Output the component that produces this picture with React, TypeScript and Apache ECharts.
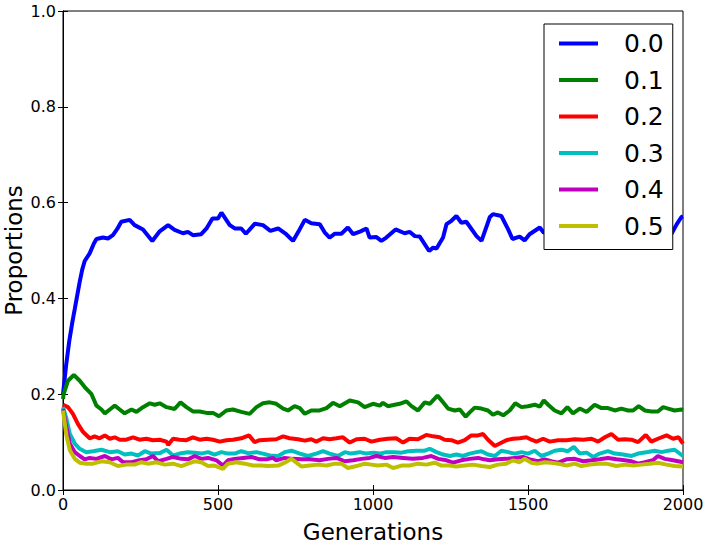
import React, { useEffect, useRef } from "react";
import * as echarts from "echarts";

const seriesNames = ["0.0", "0.1", "0.2", "0.3", "0.4", "0.5"];
const seriesColors = ["#0000ff", "#008000", "#ff0000", "#00bfbf", "#bf00bf", "#bfbf00"];
const xTicks = [0, 500, 1000, 1500, 2000];

const p00 = [[0,0.2],[10,0.26],[20,0.31],[30,0.35],[38,0.378],[54,0.435],[62,0.46],[70,0.478],[86,0.494],[100,0.515],[108,0.524],[129,0.527],[145,0.525],[161,0.532],[175,0.545],[188,0.56],[215,0.564],[231,0.553],[258,0.544],[288,0.52],[312,0.54],[339,0.553],[360,0.543],[387,0.536],[403,0.539],[419,0.532],[446,0.534],[463,0.546],[482,0.567],[500,0.567],[511,0.579],[538,0.553],[554,0.546],[575,0.546],[590,0.535],[619,0.556],[645,0.553],[669,0.541],[694,0.546],[720,0.534],[742,0.52],[760,0.54],[780,0.564],[801,0.557],[828,0.555],[844,0.538],[860,0.527],[877,0.535],[898,0.535],[919,0.548],[936,0.534],[960,0.54],[979,0.546],[989,0.527],[1011,0.528],[1027,0.52],[1043,0.527],[1073,0.544],[1102,0.536],[1118,0.539],[1135,0.53],[1151,0.529],[1181,0.499],[1194,0.506],[1205,0.504],[1226,0.527],[1237,0.555],[1253,0.562],[1269,0.572],[1285,0.558],[1301,0.56],[1334,0.53],[1350,0.52],[1377,0.57],[1387,0.576],[1414,0.572],[1436,0.544],[1450,0.524],[1473,0.529],[1489,0.521],[1505,0.534],[1538,0.548],[1551,0.537],[1580,0.545],[1620,0.55],[1660,0.538],[1700,0.545],[1740,0.55],[1780,0.54],[1820,0.548],[1860,0.552],[1900,0.54],[1940,0.545],[1963,0.535],[1980,0.555],[1995,0.57],[2000,0.571]];

const p01 = [[0,0.19],[2,0.2],[16,0.228],[35,0.24],[54,0.228],[70,0.215],[92,0.2],[108,0.176],[124,0.168],[135,0.16],[151,0.168],[167,0.176],[183,0.168],[199,0.16],[221,0.168],[237,0.163],[258,0.173],[280,0.181],[296,0.178],[312,0.181],[334,0.173],[360,0.169],[379,0.183],[398,0.173],[419,0.164],[441,0.164],[463,0.161],[484,0.161],[503,0.154],[527,0.166],[548,0.168],[575,0.163],[602,0.159],[624,0.173],[645,0.181],[667,0.183],[688,0.18],[710,0.17],[726,0.166],[747,0.175],[764,0.171],[780,0.159],[801,0.166],[828,0.166],[850,0.171],[871,0.182],[893,0.175],[925,0.187],[952,0.183],[973,0.173],[1000,0.18],[1022,0.176],[1032,0.182],[1048,0.175],[1070,0.178],[1086,0.18],[1108,0.185],[1124,0.175],[1145,0.166],[1167,0.183],[1183,0.18],[1208,0.197],[1226,0.183],[1242,0.17],[1264,0.166],[1280,0.168],[1299,0.153],[1312,0.162],[1328,0.172],[1350,0.17],[1371,0.166],[1387,0.157],[1403,0.162],[1420,0.156],[1441,0.166],[1459,0.181],[1479,0.173],[1500,0.175],[1522,0.178],[1538,0.174],[1551,0.187],[1565,0.178],[1586,0.166],[1608,0.16],[1627,0.173],[1645,0.16],[1667,0.17],[1689,0.163],[1715,0.178],[1737,0.171],[1758,0.171],[1780,0.166],[1801,0.17],[1823,0.166],[1839,0.166],[1857,0.175],[1877,0.166],[1898,0.164],[1919,0.164],[1936,0.173],[1952,0.17],[1973,0.166],[1995,0.168],[2000,0.167]];

const p02 = [[0,0.178],[16,0.173],[32,0.159],[48,0.138],[65,0.121],[86,0.108],[102,0.112],[118,0.108],[135,0.114],[151,0.107],[167,0.11],[183,0.105],[204,0.105],[226,0.11],[247,0.105],[269,0.107],[290,0.104],[312,0.105],[334,0.101],[339,0.094],[355,0.107],[376,0.105],[398,0.104],[419,0.11],[441,0.105],[463,0.107],[484,0.105],[506,0.101],[527,0.104],[548,0.105],[575,0.108],[600,0.114],[618,0.1],[634,0.104],[661,0.105],[688,0.106],[710,0.112],[731,0.108],[758,0.106],[780,0.103],[801,0.106],[817,0.101],[839,0.108],[860,0.106],[882,0.108],[903,0.11],[925,0.099],[947,0.106],[973,0.107],[995,0.101],[1022,0.105],[1048,0.107],[1075,0.108],[1097,0.099],[1118,0.107],[1145,0.106],[1172,0.115],[1194,0.112],[1215,0.11],[1231,0.105],[1253,0.104],[1274,0.099],[1296,0.104],[1317,0.114],[1339,0.114],[1355,0.117],[1371,0.105],[1393,0.092],[1409,0.097],[1430,0.104],[1452,0.107],[1473,0.108],[1495,0.11],[1511,0.105],[1527,0.101],[1549,0.107],[1570,0.101],[1597,0.104],[1624,0.104],[1651,0.106],[1678,0.105],[1705,0.107],[1726,0.101],[1748,0.11],[1769,0.117],[1791,0.105],[1812,0.106],[1834,0.105],[1855,0.1],[1880,0.115],[1898,0.101],[1919,0.107],[1947,0.114],[1968,0.107],[1986,0.11],[2000,0.097]];

const p03 = [[0,0.173],[11,0.149],[22,0.117],[38,0.097],[54,0.086],[75,0.079],[97,0.081],[124,0.084],[151,0.079],[177,0.081],[199,0.074],[221,0.076],[242,0.072],[264,0.081],[285,0.076],[312,0.077],[334,0.084],[355,0.072],[376,0.076],[403,0.079],[425,0.078],[446,0.076],[468,0.079],[489,0.074],[511,0.079],[532,0.076],[554,0.076],[575,0.081],[597,0.077],[624,0.079],[645,0.076],[667,0.072],[694,0.071],[715,0.079],[737,0.082],[764,0.076],[790,0.071],[817,0.076],[839,0.081],[860,0.076],[887,0.071],[909,0.079],[930,0.076],[957,0.079],[979,0.076],[1000,0.078],[1022,0.076],[1043,0.079],[1070,0.079],[1092,0.078],[1113,0.081],[1140,0.082],[1167,0.082],[1183,0.086],[1205,0.079],[1226,0.074],[1248,0.071],[1269,0.074],[1290,0.071],[1312,0.076],[1334,0.079],[1350,0.081],[1371,0.074],[1393,0.071],[1414,0.082],[1436,0.079],[1457,0.076],[1479,0.079],[1500,0.076],[1522,0.082],[1543,0.071],[1565,0.076],[1586,0.082],[1608,0.084],[1629,0.081],[1648,0.09],[1667,0.076],[1689,0.078],[1710,0.069],[1731,0.076],[1758,0.081],[1780,0.076],[1807,0.074],[1834,0.071],[1855,0.076],[1882,0.079],[1909,0.082],[1930,0.079],[1952,0.082],[1973,0.084],[2000,0.071]];

const p04 = [[0,0.169],[11,0.131],[22,0.097],[38,0.079],[54,0.071],[70,0.064],[86,0.067],[108,0.065],[135,0.071],[156,0.064],[177,0.067],[194,0.058],[221,0.058],[247,0.062],[269,0.064],[290,0.071],[307,0.06],[334,0.065],[355,0.069],[382,0.065],[403,0.064],[425,0.071],[446,0.065],[468,0.067],[495,0.062],[516,0.051],[532,0.062],[554,0.065],[581,0.067],[608,0.069],[634,0.064],[656,0.064],[677,0.067],[688,0.062],[715,0.067],[742,0.065],[769,0.064],[796,0.064],[828,0.062],[855,0.065],[882,0.067],[909,0.06],[936,0.062],[963,0.065],[989,0.067],[1011,0.071],[1038,0.067],[1065,0.069],[1097,0.067],[1129,0.065],[1161,0.067],[1188,0.071],[1210,0.065],[1237,0.062],[1258,0.057],[1285,0.062],[1312,0.065],[1339,0.067],[1358,0.064],[1377,0.062],[1403,0.064],[1430,0.065],[1457,0.067],[1484,0.069],[1506,0.064],[1532,0.06],[1554,0.064],[1575,0.06],[1597,0.057],[1624,0.064],[1651,0.065],[1678,0.06],[1705,0.062],[1731,0.064],[1758,0.067],[1785,0.064],[1812,0.062],[1834,0.06],[1855,0.055],[1877,0.058],[1903,0.062],[1919,0.071],[1941,0.065],[1968,0.062],[2000,0.058]];

const p05 = [[0,0.166],[11,0.114],[22,0.083],[38,0.065],[54,0.057],[75,0.055],[97,0.055],[124,0.06],[151,0.058],[177,0.05],[204,0.053],[231,0.053],[253,0.058],[274,0.055],[301,0.058],[328,0.053],[355,0.055],[382,0.05],[403,0.055],[425,0.06],[446,0.058],[468,0.05],[489,0.051],[516,0.044],[532,0.055],[559,0.058],[586,0.055],[613,0.051],[640,0.051],[661,0.05],[694,0.051],[715,0.057],[737,0.065],[753,0.057],[769,0.049],[796,0.051],[823,0.053],[850,0.051],[877,0.055],[898,0.055],[919,0.046],[947,0.05],[973,0.055],[995,0.053],[1016,0.051],[1043,0.053],[1065,0.046],[1092,0.051],[1118,0.051],[1145,0.055],[1172,0.053],[1199,0.057],[1221,0.051],[1248,0.051],[1269,0.049],[1296,0.051],[1323,0.053],[1350,0.05],[1377,0.048],[1403,0.053],[1430,0.055],[1452,0.062],[1473,0.058],[1489,0.065],[1511,0.057],[1532,0.055],[1554,0.058],[1575,0.057],[1597,0.055],[1624,0.051],[1651,0.055],[1672,0.05],[1699,0.053],[1726,0.055],[1753,0.055],[1785,0.05],[1812,0.053],[1839,0.051],[1866,0.053],[1893,0.055],[1919,0.057],[1947,0.053],[1973,0.05],[2000,0.049]];

const seriesData = [p00, p01, p02, p03, p04, p05];

const FONT = "DejaVu Sans";

export default function App() {
  const ref = useRef<HTMLDivElement>(null);
  useEffect(() => {
    if (!ref.current) return;
    const chart = echarts.init(ref.current, null, { renderer: "svg" });
    const tick = { show: true, inside: true, length: 5, lineStyle: { color: "#000", width: 1 } };
    const line = { show: true, lineStyle: { color: "#000", width: 1 } };
    chart.setOption({
      animation: false,
      backgroundColor: "#fff",
      grid: {
        left: 63, right: 21, top: 11, bottom: 54,
        containLabel: false, outerBoundsMode: "none",
        show: true, borderColor: "#000", borderWidth: 1,
      },
      legend: {
        orient: "vertical",
        left: 544,
        top: 24,
        data: seriesNames,
        icon: "rect",
        itemWidth: 39,
        itemHeight: 4,
        itemGap: 11.5,
        padding: [7, 9, 11, 15],
        backgroundColor: "#fff",
        borderColor: "#000",
        borderWidth: 1,
        borderRadius: 0,
        textStyle: { fontFamily: FONT, fontSize: 25, color: "#000", lineHeight: 25, padding: [0, 0, 0, 21] },
      },
      xAxis: [
        {
          type: "value", min: 0, max: 2000, interval: 500, position: "bottom",
          name: "Generations", nameLocation: "middle", nameGap: 30, nameMoveOverlap: false,
          nameTextStyle: { fontFamily: FONT, fontSize: 23, color: "#000" },
          axisLine: line, axisTick: tick, splitLine: { show: false },
          axisLabel: { fontFamily: FONT, fontSize: 16, color: "#000", margin: 6, formatter: (v: number) => String(v) },
        },
        {
          type: "value", min: 0, max: 2000, interval: 500, position: "top",
          axisLine: line, axisTick: tick, splitLine: { show: false }, axisLabel: { show: false },
        },
      ],
      yAxis: [
        {
          type: "value", min: 0, max: 1, interval: 0.2, position: "left",
          name: "Proportions", nameLocation: "middle", nameGap: 38, nameMoveOverlap: false,
          nameTextStyle: { fontFamily: FONT, fontSize: 23, color: "#000" },
          axisLine: line, axisTick: tick, splitLine: { show: false },
          axisLabel: { fontFamily: FONT, fontSize: 16, color: "#000", margin: 7, formatter: (v: number) => v.toFixed(1) },
        },
        {
          type: "value", min: 0, max: 1, interval: 0.2, position: "right",
          axisLine: line, axisTick: tick, splitLine: { show: false }, axisLabel: { show: false },
        },
      ],
      series: seriesNames.map((name, i) => ({
        name,
        type: "line",
        data: seriesData[i],
        showSymbol: false,
        symbol: "none",
        smooth: false,
        color: seriesColors[i],
        lineStyle: { color: seriesColors[i], width: 4 },
        itemStyle: { color: seriesColors[i] },
        emphasis: { disabled: true },
      })),
    });
    return () => chart.dispose();
  }, []);
  return <div ref={ref} style={{ position: "fixed", left: 0, top: 0, width: 704, height: 544 }} />;
}
